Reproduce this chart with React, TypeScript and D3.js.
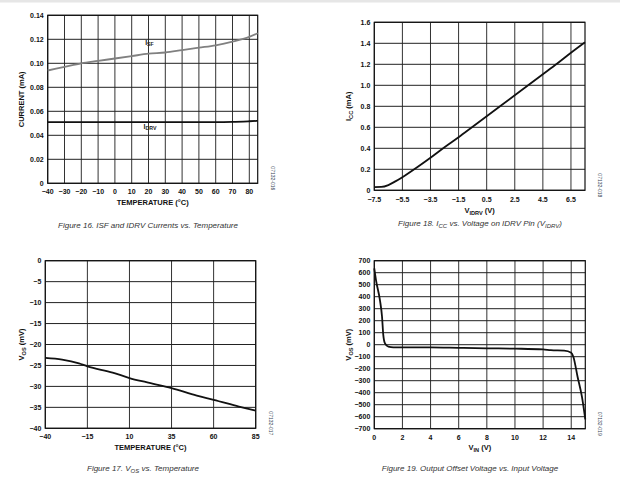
import React from "react";
import * as d3 from "d3";

// Figure 16
const tempX16 = [-40, -30, -20, -10, 0, 10, 20, 30, 40, 50, 60, 70, 80, 85];
const isf16 = [0.094, 0.097, 0.1, 0.102, 0.104, 0.106, 0.108, 0.109, 0.111, 0.113, 0.115, 0.118, 0.122, 0.125];
const idrv16 = [0.051, 0.051, 0.051, 0.051, 0.051, 0.051, 0.051, 0.051, 0.051, 0.051, 0.051, 0.0512, 0.0517, 0.052];
const xTicks16 = [-40, -30, -20, -10, 0, 10, 20, 30, 40, 50, 60, 70, 80];
const yTicks16 = [0, 0.02, 0.04, 0.06, 0.08, 0.1, 0.12, 0.14];

// Figure 18
const vidrv18 = [-7.5, -7.0, -6.5, -6.0, -5.5, -4.5, -3.5, -2.5, -1.5, -0.5, 0.5, 1.5, 2.5, 3.5, 4.5, 5.5, 6.5, 7.5];
const icc18 = [0.03, 0.032, 0.05, 0.085, 0.125, 0.215, 0.31, 0.41, 0.505, 0.605, 0.705, 0.805, 0.905, 1.005, 1.105, 1.205, 1.31, 1.41];
const xTicks18 = [-7.5, -5.5, -3.5, -1.5, 0.5, 2.5, 4.5, 6.5];
const yTicks18 = [0, 0.2, 0.4, 0.6, 0.8, 1.0, 1.2, 1.4, 1.6];

// Figure 17
const temp17 = [-40, -30, -20, -15, 0, 10, 20, 35, 50, 60, 75, 85];
const vos17 = [-23.2, -23.6, -24.5, -25.2, -26.7, -28.0, -29.0, -30.4, -32.2, -33.2, -34.8, -35.8];
const xTicks17 = [-40, -15, 10, 35, 60, 85];
const yTicks17 = [0, -5, -10, -15, -20, -25, -30, -35, -40];

// Figure 19
const vin19 = [0, 0.12, 0.4, 0.55, 0.64, 0.76, 1.0, 1.36, 2, 4, 6, 8, 10, 12, 12.55, 13.5, 14.0, 14.15, 14.45, 14.76, 15];
const vos19 = [636, 539, 372, 233, 80, 11, -17, -22, -22, -22, -26, -30, -33, -39, -46, -50, -67, -100, -267, -433, -622];
const xTicks19 = [0, 2, 4, 6, 8, 10, 12, 14];
const yTicks19 = [700, 600, 500, 400, 300, 200, 100, 0, -100, -200, -300, -400, -500, -600, -700];

const FONT = "'Liberation Sans', Arial, sans-serif";

type PanelProps = {
  box: [number, number, number, number];
  xDomain: [number, number];
  yDomain: [number, number];
  xTicks: number[];
  yTicks: number[];
  xFmt: (v: number) => string;
  yFmt: (v: number) => string;
  xTitle: React.ReactNode;
  yTitle: React.ReactNode;
  xTitleY: number;
  xTickY: number;
  yTitleX: number;
  series: { x: number[]; y: number[]; color: string; width: number }[];
  code: string;
  caption: React.ReactNode;
  captionX: number;
  captionY: number;
  extra?: (x: d3.ScaleLinear<number, number>, y: d3.ScaleLinear<number, number>) => React.ReactNode;
};

const minus = (s: string) => s.replace("-", "\u2212");

function Panel(p: PanelProps) {
  const [l, t, r, b] = p.box;
  const x = d3.scaleLinear().domain(p.xDomain).range([l, r]);
  const y = d3.scaleLinear().domain(p.yDomain).range([b, t]);
  return (
    <g>
      {p.xTicks.map((v, i) => (
        <line key={"vx" + i} x1={x(v)} x2={x(v)} y1={t} y2={b} stroke="#333" strokeWidth={1} />
      ))}
      {p.yTicks.map((v, i) => (
        <line key={"hy" + i} x1={l} x2={r} y1={y(v)} y2={y(v)} stroke="#222" strokeWidth={1} />
      ))}
      <rect x={l} y={t} width={r - l} height={b - t} fill="none" stroke="#111" strokeWidth={1.2} />
      {p.series.map((s, i) => {
        const line = d3
          .line<number>()
          .x((_, j) => x(s.x[j]))
          .y((d) => y(d))
          .curve(d3.curveMonotoneX);
        return <path key={"s" + i} d={line(s.y) || ""} fill="none" stroke={s.color} strokeWidth={s.width} />;
      })}
      {p.extra && p.extra(x, y)}
      {p.xTicks.map((v, i) => (
        <text key={"xt" + i} x={x(v)} y={p.xTickY} fontSize={7} fontWeight="bold" textAnchor="middle" fill="#111" fontFamily={FONT}>
          {minus(p.xFmt(v))}
        </text>
      ))}
      {p.yTicks.map((v, i) => (
        <text key={"yt" + i} x={l - 4} y={y(v) + 2.5} fontSize={7} fontWeight="bold" textAnchor="end" fill="#111" fontFamily={FONT}>
          {minus(p.yFmt(v))}
        </text>
      ))}
      <text x={(l + r) / 2} y={p.xTitleY} fontSize={7.5} fontWeight="bold" textAnchor="middle" fill="#111" fontFamily={FONT}>
        {p.xTitle}
      </text>
      <text
        transform={`translate(${p.yTitleX},${(t + b) / 2}) rotate(-90)`}
        fontSize={7.5}
        fontWeight="bold"
        textAnchor="middle"
        fill="#111"
        fontFamily={FONT}
      >
        {p.yTitle}
      </text>
      <text
        transform={`translate(${r + 13},${b - 5}) rotate(90)`}
        fontSize={5}
        textAnchor="middle"
        fill="#345"
        fontFamily={FONT}
      >
        {p.code}
      </text>
      <text x={p.captionX} y={p.captionY} fontSize={8} fontStyle="italic" textAnchor="middle" fill="#333" fontFamily={FONT}>
        {p.caption}
      </text>
    </g>
  );
}

const Sub = ({ children }: { children: React.ReactNode }) => (
  <tspan fontSize="75%" baselineShift="-25%">
    {children}
  </tspan>
);

export default function App() {
  return (
    <svg
      width={620}
      height={490}
      viewBox="0 0 620 490"
      style={{ position: "absolute", left: 0, top: 0, background: "#fff" }}
    >
      <rect x={0} y={0} width={620} height={490} fill="#fff" />
      <rect x={0} y={0} width={620} height={2.5} fill="#e6e6e6" />
      <Panel
        box={[47.7, 15.3, 257.7, 183.3]}
        xDomain={[-40, 85]}
        yDomain={[0, 0.14]}
        xTicks={xTicks16}
        yTicks={yTicks16}
        xFmt={(v) => String(v)}
        yFmt={(v) => (v === 0 ? "0" : v.toFixed(2))}
        xTitle="TEMPERATURE (°C)"
        yTitle="CURRENT (mA)"
        xTitleY={205}
        xTickY={194}
        yTitleX={24}
        series={[
          { x: tempX16, y: isf16, color: "#808080", width: 1.8 },
          { x: tempX16, y: idrv16, color: "#111", width: 1.8 },
        ]}
        code="07132-016"
        caption="Figure 16. ISF and IDRV Currents vs. Temperature"
        captionX={148}
        captionY={228}
        extra={(x, y) => (
          <g fontFamily={FONT} fontSize={7} fontWeight="bold" fill="#222">
            <text x={x(18)} y={y(0.115)}>
              I<Sub>SF</Sub>
            </text>
            <text x={x(17)} y={y(0.0455)}>
              I<Sub>DRV</Sub>
            </text>
          </g>
        )}
      />
      <Panel
        box={[374.3, 22.3, 585, 190.3]}
        xDomain={[-7.5, 7.5]}
        yDomain={[0, 1.6]}
        xTicks={xTicks18}
        yTicks={yTicks18}
        xFmt={(v) => v.toFixed(1)}
        yFmt={(v) => (v === 0 ? "0" : v.toFixed(1))}
        xTitle={<>V<Sub>IDRV</Sub> (V)</>}
        yTitle={<>I<Sub>CC</Sub> (mA)</>}
        xTitleY={213}
        xTickY={202}
        yTitleX={351}
        series={[{ x: vidrv18, y: icc18, color: "#111", width: 1.8 }]}
        code="07132-018"
        caption={<>Figure 18. I<Sub>CC</Sub> vs. Voltage on IDRV Pin (V<Sub>IDRV</Sub>)</>}
        captionX={480}
        captionY={226}
      />
      <Panel
        box={[45.3, 260.7, 255.7, 428.3]}
        xDomain={[-40, 85]}
        yDomain={[-40, 0]}
        xTicks={xTicks17}
        yTicks={yTicks17}
        xFmt={(v) => String(v)}
        yFmt={(v) => String(v)}
        xTitle="TEMPERATURE (°C)"
        yTitle={<>V<Sub>OS</Sub> (mV)</>}
        xTitleY={449.5}
        xTickY={439}
        yTitleX={24}
        series={[{ x: temp17, y: vos17, color: "#111", width: 1.8 }]}
        code="07132-017"
        caption={<>Figure 17. V<Sub>OS</Sub> vs. Temperature</>}
        captionX={143}
        captionY={471}
      />
      <Panel
        box={[374.3, 260.7, 585.3, 428.7]}
        xDomain={[0, 15]}
        yDomain={[-700, 700]}
        xTicks={xTicks19}
        yTicks={yTicks19}
        xFmt={(v) => String(v)}
        yFmt={(v) => String(v)}
        xTitle={<>V<Sub>IN</Sub> (V)</>}
        yTitle={<>V<Sub>OS</Sub> (mV)</>}
        xTitleY={450}
        xTickY={440}
        yTitleX={351}
        series={[{ x: vin19, y: vos19, color: "#111", width: 1.8 }]}
        code="07132-019"
        caption="Figure 19. Output Offset Voltage vs. Input Voltage"
        captionX={470}
        captionY={471}
      />
    </svg>
  );
}
